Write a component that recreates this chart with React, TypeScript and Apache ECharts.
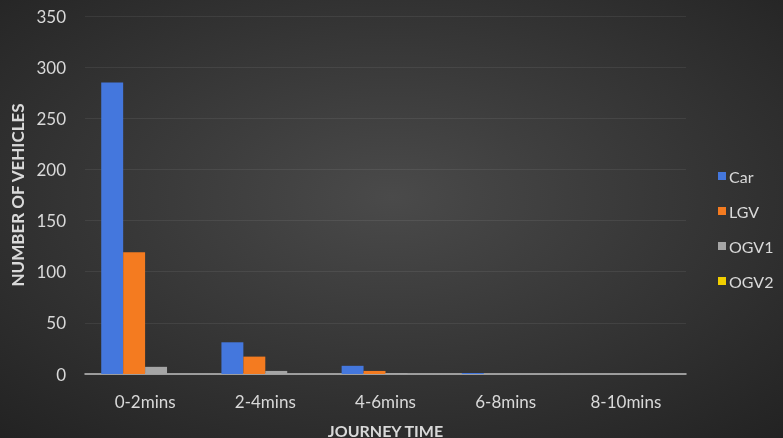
import React, { useEffect, useRef } from "react";
import * as echarts from "echarts";

const categories = ["0-2mins", "2-4mins", "4-6mins", "6-8mins", "8-10mins"];
const carValues = [285, 31, 8, 1, 0];
const lgvValues = [119, 17, 3, 0, 0];
const ogv1Values = [7, 3, 1, 0, 0];
const ogv2Values = [0, 0, 0, 0, 0];
const seriesNames = ["Car", "LGV", "OGV1", "OGV2"];
const seriesColors = ["#4477DD", "#F47B20", "#A5A5A5", "#F2CF00"];

export default function App() {
  const ref = useRef<HTMLDivElement>(null);
  useEffect(() => {
    document.body.style.margin = "0";
    const chart = echarts.init(ref.current!, null, { renderer: "svg" });
    const font = "Lato, 'Open Sans', sans-serif";
    const data = [carValues, lgvValues, ogv1Values, ogv2Values];
    chart.setOption({
      animation: false,
      backgroundColor: {
        type: "radial",
        x: 0.5,
        y: 0.45,
        r: 0.75,
        colorStops: [
          { offset: 0, color: "#4a4a4a" },
          { offset: 1, color: "#222222" },
        ],
      },
      textStyle: { fontFamily: font },
      grid: {
        left: 85,
        right: 97,
        top: 16,
        bottom: 64,
        containLabel: false,
        outerBoundsMode: "none",
      },
      legend: {
        orient: "vertical",
        left: 713,
        top: 163,
        itemWidth: 8,
        itemHeight: 8,
        itemGap: 19,
        icon: "rect",
        textStyle: { color: "#d9d9d9", fontSize: 16, fontFamily: font, padding: [0, 0, 0, -2] },
        data: seriesNames,
      },
      xAxis: {
        type: "category",
        data: categories,
        name: "JOURNEY TIME",
        nameLocation: "middle",
        nameGap: 48,
        nameTextStyle: { color: "#d9d9d9", fontSize: 16, fontWeight: "bold" },
        axisLine: { lineStyle: { color: "#bfbfbf", width: 1.5 } },
        axisTick: { show: false },
        axisLabel: { color: "#d9d9d9", fontSize: 17, margin: 19 },
      },
      yAxis: {
        type: "value",
        min: 0,
        max: 350,
        interval: 50,
        name: "NUMBER OF VEHICLES",
        nameLocation: "middle",
        nameGap: 59,
        nameTextStyle: { color: "#d9d9d9", fontSize: 17, fontWeight: "bold" },
        axisLine: { show: false },
        axisTick: { show: false },
        axisLabel: { color: "#d9d9d9", fontSize: 17, margin: 19 },
        splitLine: { lineStyle: { color: "rgba(255,255,255,0.07)", width: 1 } },
      },
      series: seriesNames.map((name, i) => ({
        name,
        type: "bar",
        data: data[i],
        barGap: "0%",
        barCategoryGap: "27%",
        itemStyle: { color: seriesColors[i] },
      })),
    });
    return () => chart.dispose();
  }, []);
  return (
    <div
      ref={ref}
      style={{ position: "fixed", left: 0, top: 0, width: 783, height: 438 }}
    />
  );
}
